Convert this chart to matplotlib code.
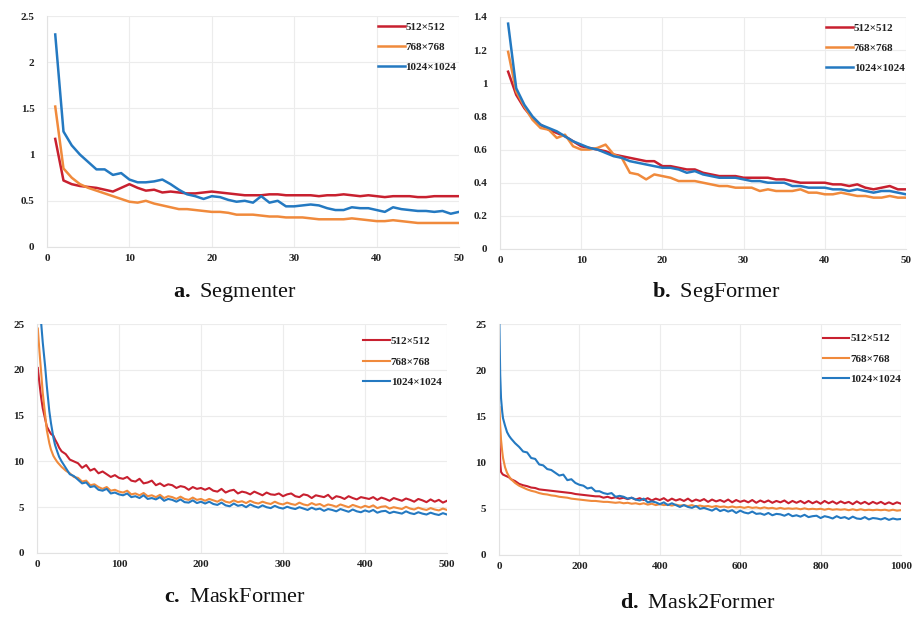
import matplotlib
matplotlib.use("Agg")
import matplotlib.pyplot as plt
from matplotlib.ticker import FuncFormatter

plt.rcParams['font.family'] = ['Liberation Serif', 'DejaVu Serif']
plt.rcParams['mathtext.fontset'] = 'custom'
plt.rcParams['mathtext.rm'] = 'Liberation Serif'
plt.rcParams['mathtext.bf'] = 'Liberation Serif:bold'

# ---------------- data ----------------
labels = ["512×512", "768×768", "1024×1024"]
colors = ["#c8202f", "#f08a3c", "#2479c1"]

# a. Segmenter (epochs 1..50)
seg_x = list(range(1, 51))
seg_512 = [1.17, 0.72, 0.68, 0.66, 0.65, 0.64, 0.62, 0.60, 0.64, 0.68,
           0.64, 0.61, 0.62, 0.59, 0.60, 0.59, 0.58, 0.58, 0.59, 0.60,
           0.59, 0.58, 0.57, 0.56, 0.56, 0.56, 0.57, 0.57, 0.56, 0.56,
           0.56, 0.56, 0.55, 0.56, 0.56, 0.57, 0.56, 0.55, 0.56, 0.55,
           0.54, 0.55, 0.55, 0.55, 0.54, 0.54, 0.55, 0.55, 0.55, 0.55]
seg_768 = [1.52, 0.85, 0.75, 0.68, 0.64, 0.61, 0.58, 0.55, 0.52, 0.49,
           0.48, 0.50, 0.47, 0.45, 0.43, 0.41, 0.41, 0.40, 0.39, 0.38,
           0.38, 0.37, 0.35, 0.35, 0.35, 0.34, 0.33, 0.33, 0.32, 0.32,
           0.32, 0.31, 0.30, 0.30, 0.30, 0.30, 0.31, 0.30, 0.29, 0.28,
           0.28, 0.29, 0.28, 0.27, 0.26, 0.26, 0.26, 0.26, 0.26, 0.26]
seg_1024 = [2.30, 1.25, 1.10, 1.00, 0.92, 0.84, 0.84, 0.78, 0.80, 0.73,
            0.70, 0.70, 0.71, 0.73, 0.68, 0.62, 0.57, 0.55, 0.52, 0.55,
            0.54, 0.51, 0.49, 0.50, 0.48, 0.55, 0.48, 0.50, 0.44, 0.44,
            0.45, 0.46, 0.45, 0.42, 0.40, 0.40, 0.43, 0.42, 0.42, 0.40,
            0.38, 0.43, 0.41, 0.40, 0.39, 0.39, 0.38, 0.39, 0.36, 0.38]

# b. SegFormer (epochs 1..50)
sf_x = list(range(1, 51))
sf_512 = [1.07, 0.93, 0.85, 0.79, 0.75, 0.72, 0.70, 0.68, 0.65, 0.62,
          0.61, 0.60, 0.59, 0.57, 0.56, 0.55, 0.54, 0.53, 0.53, 0.50,
          0.50, 0.49, 0.48, 0.48, 0.46, 0.45, 0.44, 0.44, 0.44, 0.43,
          0.43, 0.43, 0.43, 0.42, 0.42, 0.41, 0.40, 0.40, 0.40, 0.40,
          0.39, 0.39, 0.38, 0.39, 0.37, 0.36, 0.37, 0.38, 0.36, 0.36]
sf_768 = [1.19, 0.95, 0.86, 0.78, 0.73, 0.72, 0.67, 0.69, 0.62, 0.60,
          0.60, 0.61, 0.63, 0.57, 0.55, 0.46, 0.45, 0.42, 0.45, 0.44,
          0.43, 0.41, 0.41, 0.41, 0.40, 0.39, 0.38, 0.38, 0.37, 0.37,
          0.37, 0.35, 0.36, 0.35, 0.35, 0.35, 0.36, 0.34, 0.34, 0.33,
          0.33, 0.34, 0.33, 0.32, 0.32, 0.31, 0.31, 0.32, 0.31, 0.31]
sf_1024 = [1.36, 0.97, 0.87, 0.80, 0.75, 0.73, 0.71, 0.68, 0.65, 0.63,
           0.61, 0.60, 0.58, 0.56, 0.55, 0.53, 0.52, 0.51, 0.50, 0.49,
           0.49, 0.48, 0.46, 0.47, 0.45, 0.44, 0.43, 0.43, 0.43, 0.42,
           0.41, 0.41, 0.40, 0.40, 0.40, 0.38, 0.38, 0.37, 0.37, 0.37,
           0.36, 0.36, 0.35, 0.36, 0.35, 0.34, 0.35, 0.35, 0.34, 0.33]

# c. MaskFormer (iterations)
mf_x = [1, 3, 5, 7, 10, 12, 15, 17, 20, 22, 25, 27, 30] + list(range(35, 501, 5))
mf_512 = [20.2, 18.5, 17.0, 15.8, 14.6, 13.8, 13.3, 13.0, 12.8, 12.4, 11.9, 11.5, 11.1,
          10.8, 10.2, 10.0, 9.8, 9.3, 9.6, 9.0, 9.2, 8.7, 8.9, 8.6, 8.3, 8.5, 8.2,
          8.1, 8.3, 7.9, 7.8, 8.1, 7.6, 7.7, 7.9, 7.4, 7.6, 7.3, 7.5, 7.4, 7.1, 7.3, 7.2, 6.9, 7.2, 7.0, 7.1,
          6.9, 7.1, 6.8, 6.7, 7.0, 6.6, 6.8, 6.9, 6.5, 6.7, 6.6, 6.4, 6.7, 6.5, 6.3, 6.6, 6.4, 6.35, 6.5, 6.2,
          6.4, 6.5, 6.2, 6.1, 6.4, 6.3, 6.0, 6.3, 6.2, 6.1, 6.35, 5.9, 6.2, 6.1, 5.9, 6.2, 6.0, 5.85, 6.1, 6.0,
          5.9, 6.1, 5.8, 6.05, 5.9, 5.7, 6.0, 5.85, 5.7, 5.95, 5.8, 5.6, 5.9, 5.75, 5.55, 5.85, 5.6, 5.8, 5.5, 5.7]
mf_768 = [24.5, 22.0, 19.8, 17.5, 15.0, 13.4, 12.0, 11.3, 10.6, 10.3, 9.9, 9.7, 9.4,
          9.0, 8.7, 8.3, 8.2, 7.8, 7.9, 7.4, 7.5, 7.2, 7.0, 7.2, 6.8, 6.9, 6.7,
          6.6, 6.8, 6.4, 6.5, 6.3, 6.55, 6.2, 6.3, 6.1, 6.35, 6.0, 6.2, 6.1, 5.9, 6.15, 5.9, 5.8, 6.05, 5.8, 5.9,
          5.7, 5.9, 5.75, 5.6, 5.85, 5.6, 5.5, 5.75, 5.55, 5.65, 5.45, 5.7, 5.5, 5.4, 5.6, 5.45, 5.35, 5.6, 5.4, 5.3,
          5.5, 5.35, 5.25, 5.5, 5.3, 5.2, 5.45, 5.25, 5.35, 5.1, 5.3, 5.2, 5.05, 5.3, 5.15, 5.0, 5.25, 5.1, 4.95, 5.15,
          5.0, 5.2, 4.9, 5.05, 5.1, 4.85, 5.0, 4.9, 4.8, 5.05, 4.85, 4.75, 4.95, 4.8, 4.7, 4.9, 4.75, 4.65, 4.85, 4.7]
mf_1024 = [28.0, 27.0, 25.2, 23.0, 20.3, 18.2, 15.5, 14.2, 12.6, 11.8, 11.0, 10.5, 10.0,
           9.3, 8.6, 8.4, 8.0, 7.6, 7.7, 7.2, 7.3, 6.9, 6.8, 7.0, 6.5, 6.6, 6.4,
           6.3, 6.5, 6.1, 6.2, 6.0, 6.3, 5.9, 6.0, 5.85, 6.1, 5.7, 5.9, 5.8, 5.6, 5.85, 5.55, 5.5, 5.75, 5.45, 5.6,
           5.4, 5.6, 5.35, 5.25, 5.5, 5.2, 5.1, 5.4, 5.15, 5.25, 5.0, 5.3, 5.1, 4.95, 5.2, 5.0, 4.9, 5.15, 4.95, 4.85,
           5.05, 4.9, 4.8, 5.0, 4.85, 4.7, 4.95, 4.75, 4.85, 4.6, 4.8, 4.7, 4.55, 4.8, 4.65, 4.5, 4.75, 4.55, 4.45, 4.65,
           4.5, 4.7, 4.4, 4.55, 4.6, 4.35, 4.5, 4.4, 4.3, 4.55, 4.35, 4.25, 4.45, 4.3, 4.2, 4.4, 4.25, 4.15, 4.35, 4.2]

# d. Mask2Former (iterations)
m2f_x = [1, 3, 5, 8, 10, 15, 20, 25, 30, 40] + list(range(50, 1001, 10))
m2f_512 = [13.0, 10.0, 9.0, 8.8, 8.7, 8.6, 8.5, 8.4, 8.2, 8.0,
           7.7, 7.55, 7.45, 7.3, 7.25, 7.1, 7.05, 7.0, 6.95, 6.9,
           6.85, 6.8, 6.75, 6.7, 6.6, 6.55, 6.5, 6.45, 6.4, 6.35,
           6.35, 6.2, 6.3, 6.15, 6.25, 6.1, 6.2, 6.05, 6.2, 6.0,
           6.15, 5.95, 6.15, 5.9, 6.1, 5.95, 6.15, 5.85, 6.1, 5.9,
           6.05, 5.85, 6.1, 5.8, 6.0, 5.85, 6.05, 5.75, 6.0, 5.8,
           5.95, 5.75, 6.0, 5.7, 5.95, 5.75, 5.9, 5.7, 5.95, 5.65,
           5.9, 5.7, 5.9, 5.65, 5.85, 5.7, 5.9, 5.6, 5.85, 5.65,
           5.85, 5.6, 5.85, 5.6, 5.8, 5.55, 5.85, 5.6, 5.8, 5.55,
           5.8, 5.6, 5.75, 5.5, 5.8, 5.55, 5.75, 5.5, 5.75, 5.55,
           5.75, 5.5, 5.7, 5.5, 5.7, 5.55]
m2f_768 = [16.0, 14.0, 12.5, 11.2, 10.5, 9.5, 8.9, 8.5, 8.2, 7.8,
           7.5, 7.3, 7.1, 6.95, 6.85, 6.7, 6.6, 6.55, 6.45, 6.4,
           6.3, 6.25, 6.2, 6.1, 6.05, 6.0, 5.95, 5.9, 5.85, 5.85,
           5.8, 5.75, 5.75, 5.7, 5.65, 5.7, 5.6, 5.65, 5.55, 5.6,
           5.5, 5.6, 5.45, 5.55, 5.4, 5.5, 5.4, 5.45, 5.35, 5.45,
           5.35, 5.4, 5.3, 5.4, 5.25, 5.35, 5.25, 5.3, 5.2, 5.3,
           5.2, 5.25, 5.15, 5.25, 5.15, 5.2, 5.1, 5.2, 5.1, 5.15,
           5.05, 5.15, 5.05, 5.1, 5.0, 5.1, 5.0, 5.05, 5.0, 5.05,
           4.95, 5.05, 4.95, 5.0, 4.95, 5.0, 4.9, 5.0, 4.9, 4.95,
           4.9, 4.95, 4.85, 4.95, 4.85, 4.95, 4.85, 4.9, 4.85, 4.9,
           4.85, 4.9, 4.8, 4.9, 4.8, 4.85]
m2f_1024 = [25.0, 19.5, 17.0, 15.5, 14.8, 14.0, 13.3, 12.9, 12.6, 12.1,
            11.7, 11.2, 11.1, 10.5, 10.4, 9.8, 9.7, 9.3, 9.2, 8.9,
            8.6, 8.7, 8.1, 8.2, 7.8, 7.6, 7.5, 7.2, 7.3, 6.9,
            6.9, 6.7, 6.6, 6.7, 6.3, 6.4, 6.3, 6.1, 6.2, 6.0,
            5.9, 6.1, 5.7, 5.8, 5.7, 5.5, 5.7, 5.4, 5.6, 5.4,
            5.2, 5.4, 5.2, 5.1, 5.3, 5.0, 5.1, 4.95, 4.8, 5.05,
            4.75, 4.9, 4.7, 4.85, 4.55, 4.8, 4.6, 4.5, 4.7, 4.45,
            4.5, 4.35, 4.55, 4.3, 4.45, 4.4, 4.25, 4.45, 4.2, 4.3,
            4.15, 4.35, 4.1, 4.2, 4.25, 4.0, 4.2, 4.1, 3.95, 4.2,
            4.0, 4.1, 3.9, 4.15, 3.95, 3.9, 4.1, 3.85, 4.0, 3.95,
            3.85, 4.0, 3.8, 3.95, 3.85, 3.9]

panels = [
    dict(tag="a.", name="Segmenter", x=seg_x, ys=[seg_512, seg_768, seg_1024],
         xlim=(0, 50), xticks=[0, 10, 20, 30, 40, 50],
         ylim=(0, 2.5), yticks=[0, 0.5, 1, 1.5, 2, 2.5], lw=1.8,
         rect=[47, 16, 459, 247], leg=(0.803, 0.975), title=(235, 293)),
    dict(tag="b.", name="SegFormer", x=sf_x, ys=[sf_512, sf_768, sf_1024],
         xlim=(0, 50), xticks=[0, 10, 20, 30, 40, 50],
         ylim=(0, 1.4), yticks=[0, 0.2, 0.4, 0.6, 0.8, 1, 1.2, 1.4], lw=1.8,
         rect=[500, 17, 906, 249], leg=(0.803, 0.975), title=(716, 292)),
    dict(tag="c.", name="MaskFormer", x=mf_x, ys=[mf_512, mf_768, mf_1024],
         xlim=(0, 500), xticks=[0, 100, 200, 300, 400, 500],
         ylim=(0, 25), yticks=[0, 5, 10, 15, 20, 25], lw=1.5,
         rect=[37, 324, 447, 553], leg=(0.795, 0.945), title=(235, 598)),
    dict(tag="d.", name="Mask2Former", x=m2f_x, ys=[m2f_512, m2f_768, m2f_1024],
         xlim=(0, 1000), xticks=[0, 200, 400, 600, 800, 1000],
         ylim=(0, 25), yticks=[0, 5, 10, 15, 20, 25], lw=1.5,
         rect=[499, 324, 901, 555], leg=(0.805, 0.958), title=(698, 603)),
]

W, H = 915, 618
fig = plt.figure(figsize=(W / 100, H / 100), dpi=100)
fig.patch.set_facecolor("white")

fmt = FuncFormatter(lambda v, p: f"{v:g}")

for p in panels:
    l, t, r, b = p["rect"]
    ax = fig.add_axes([l / W, 1 - b / H, (r - l) / W, (b - t) / H])
    for y, c, lab in zip(p["ys"], colors, labels):
        ax.plot(p["x"], y, color=c, lw=p["lw"], label=lab, solid_joinstyle="round")
    ax.set_xlim(*p["xlim"])
    ax.set_ylim(*p["ylim"])
    ax.set_xticks(p["xticks"])
    ax.set_yticks(p["yticks"])
    ax.xaxis.set_major_formatter(fmt)
    ax.yaxis.set_major_formatter(fmt)
    ax.tick_params(length=0, labelsize=8, colors="#222222")
    ax.tick_params(axis="y", pad=9)
    ax.tick_params(axis="x", pad=5)
    for lb in ax.get_xticklabels() + ax.get_yticklabels():
        lb.set_fontweight("bold")
    ax.grid(True, color="#ececec", lw=0.8)
    ax.set_axisbelow(True)
    for s in ["top", "right"]:
        ax.spines[s].set_visible(False)
    for s in ["left", "bottom"]:
        ax.spines[s].set_color("#e2e2e2")
        ax.spines[s].set_linewidth(0.8)
    leg = ax.legend(loc="upper left", bbox_to_anchor=p["leg"], frameon=False,
                    borderaxespad=0, borderpad=0, handlelength=2.4,
                    handletextpad=0.1, labelspacing=0.95,
                    prop={"family": "Liberation Serif", "weight": "bold", "size": 8})
    for txt in leg.get_texts():
        txt.set_color("#222222")
    tx, ty = p["title"]
    fig.text(tx / W, 1 - ty / H, r"$\mathbf{" + p["tag"] + "}$ " + p["name"],
             ha="center", va="center", fontsize=16, color="#111111")

fig.savefig("out.png", dpi=100, facecolor="white")
